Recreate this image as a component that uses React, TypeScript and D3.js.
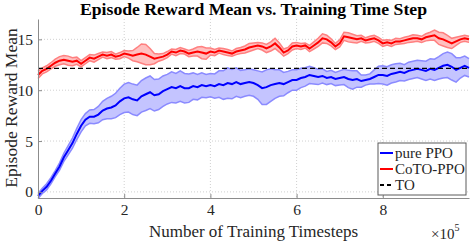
import * as React from "react";
import * as d3 from "d3";

// timesteps sampled every 1e4
const timesteps = d3.range(0, 101).map(i => i * 10000);

const ppoMean = [
  -0.4, 0.1, 0.5, 1.1, 1.8, 2.5, 3.4, 4.1, 4.8, 5.7,
  6.5, 7.1, 7.4, 7.4, 7.6, 8.0, 8.2, 8.3, 8.5, 8.9,
  9.2, 9.3, 9.1, 9.0, 9.4, 9.6, 9.8, 9.5, 9.6, 9.9,
  10.1, 10.3, 10.2, 10.4, 10.2, 10.2, 10.4, 10.3, 10.5, 10.4,
  10.5, 10.4, 10.6, 10.5, 10.7, 10.6, 10.8, 10.6, 10.7, 10.8,
  10.7, 10.5, 10.2, 10.3, 10.5, 10.6, 10.7, 10.6, 10.8, 11.0,
  11.0, 11.2, 11.3, 11.5, 11.4, 11.3, 11.4, 11.2, 11.3, 11.1,
  11.2, 11.3, 11.1, 11.0, 11.1, 10.9, 11.0, 11.1, 11.3, 11.5,
  11.5, 11.4, 11.6, 11.7, 11.8, 11.7, 11.9, 12.0, 12.1, 12.0,
  11.9, 12.1, 12.0, 12.2, 12.4, 12.5, 12.3, 12.0, 12.2, 12.4,
  12.2,
];
const ppoSpread = [
  0.25, 0.25, 0.3, 0.3, 0.3, 0.35, 0.4, 0.45, 0.5, 0.55,
  0.6, 0.6, 0.65, 0.7, 0.8, 0.9, 1.0, 1.1, 1.2, 1.3,
  1.4, 1.45, 1.5, 1.5, 1.55, 1.6, 1.6, 1.55, 1.5, 1.5,
  1.45, 1.5, 1.45, 1.5, 1.45, 1.4, 1.3, 1.25, 1.2, 1.15,
  1.15, 1.2, 1.3, 1.4, 1.5, 1.45, 1.4, 1.35, 1.3, 1.3,
  1.3, 1.4, 1.6, 1.7, 1.6, 1.4, 1.3, 1.15, 1.05, 1.0,
  1.0, 0.95, 0.9, 0.85, 0.8, 0.75, 0.7, 0.65, 0.65, 0.65,
  0.7, 0.75, 0.85, 0.9, 0.8, 0.6, 0.5, 0.5, 0.7, 0.85,
  0.9, 0.9, 0.9, 0.9, 0.85, 0.8, 0.85, 0.85, 0.85, 0.9,
  0.95, 1.0, 1.05, 1.1, 1.2, 1.25, 1.3, 1.2, 1.0, 0.95,
  0.9,
];

const cotoMean = [
  11.5, 11.9, 12.1, 12.4, 12.7, 12.9, 13.0, 12.9, 12.8, 12.9,
  12.6, 12.9, 13.2, 13.1, 13.3, 13.5, 13.4, 13.5, 13.3, 13.4,
  13.6, 13.5, 13.4, 13.5, 13.6, 13.5, 13.3, 13.1, 13.2, 13.3,
  13.5, 13.8, 13.7, 13.9, 13.8, 13.6, 13.7, 13.8, 13.7, 13.6,
  13.8, 13.7, 13.9, 13.8, 13.7, 13.6, 13.8, 13.9, 14.0, 14.2,
  14.3, 14.4, 14.3, 14.1, 14.3, 14.6, 14.2, 13.7, 13.9, 14.3,
  14.4, 14.3, 14.4, 14.1, 14.4, 14.7, 15.1, 15.0, 14.7, 14.3,
  14.6, 15.3, 15.2, 15.1, 15.0, 15.1, 14.9, 15.0, 15.1, 14.9,
  14.6, 14.7, 14.6, 14.8, 14.8, 14.9, 15.0, 15.1, 15.1, 15.0,
  15.2, 15.3, 15.4, 15.1, 15.0, 14.8, 14.6, 14.8, 15.0, 15.1,
  15.0,
];
const cotoSpread = [
  0.35, 0.3, 0.3, 0.3, 0.35, 0.4, 0.4, 0.45, 0.4, 0.35,
  0.3, 0.3, 0.3, 0.35, 0.3, 0.25, 0.3, 0.3, 0.25, 0.3,
  0.3, 0.35, 0.5, 0.7, 0.95, 1.0, 0.8, 0.5, 0.35, 0.3,
  0.3, 0.25, 0.3, 0.3, 0.25, 0.3, 0.35, 0.45, 0.6, 0.55,
  0.35, 0.3, 0.25, 0.3, 0.3, 0.25, 0.3, 0.3, 0.35, 0.4,
  0.35, 0.3, 0.35, 0.4, 0.45, 0.5, 0.45, 0.35, 0.3, 0.35,
  0.3, 0.3, 0.25, 0.3, 0.35, 0.4, 0.45, 0.4, 0.35, 0.3,
  0.35, 0.4, 0.45, 0.4, 0.35, 0.3, 0.25, 0.3, 0.3, 0.3,
  0.3, 0.25, 0.3, 0.3, 0.25, 0.3, 0.3, 0.35, 0.3, 0.3,
  0.35, 0.4, 0.5, 0.6, 0.65, 0.6, 0.5, 0.4, 0.3, 0.3,
  0.3,
];

const toLevel = 12.15;

const xTicks = [0, 200000, 400000, 600000, 800000];
const xTickLabels = ["0", "2", "4", "6", "8"];
const yTicks = [0, 5, 10, 15];

const legendItems = [
  { label: "pure PPO", color: "#0000ff", dash: "" },
  { label: "CoTO-PPO", color: "#ff0000", dash: "" },
  { label: "TO", color: "#000000", dash: "4,3" },
];

const W = 471;
const H = 242;
const FONT = "'Liberation Serif', 'Times New Roman', serif";
const TEXT = "#262626";

const App: React.FunctionComponent = () => {
  const ref = React.useRef<SVGSVGElement>(null);

  React.useEffect(() => {
    const margin = { top: 19, right: 2, bottom: 44, left: 38 };
    const width = W - margin.left - margin.right;
    const height = H - margin.top - margin.bottom;

    const x = d3.scaleLinear().domain([0, 1000000]).range([0, width]);
    const y = d3.scaleLinear().domain([-0.6, 17]).range([height, 0]);

    const svg = d3.select(ref.current);
    svg.selectAll("*").remove();
    const g = svg
      .append("g")
      .attr("transform", `translate(${margin.left},${margin.top})`);

    // grid
    g.selectAll(".gx")
      .data(xTicks.slice(1))
      .enter()
      .append("line")
      .attr("x1", d => x(d))
      .attr("x2", d => x(d))
      .attr("y1", 0)
      .attr("y2", height)
      .attr("stroke", "#d0d0d0")
      .attr("stroke-dasharray", "1,2");
    g.selectAll(".gy")
      .data(yTicks)
      .enter()
      .append("line")
      .attr("x1", 0)
      .attr("x2", width)
      .attr("y1", d => y(d))
      .attr("y2", d => y(d))
      .attr("stroke", "#d0d0d0")
      .attr("stroke-dasharray", "1,2");

    const drawSeries = (
      mean: number[],
      spread: number[],
      color: string,
      fill: string,
      edge: string
    ) => {
      const idx = d3.range(mean.length);
      const area = d3
        .area<number>()
        .x(i => x(timesteps[i]))
        .y0(i => y(mean[i] - spread[i]))
        .y1(i => y(mean[i] + spread[i]));
      g.append("path").datum(idx).attr("d", area).attr("fill", fill);
      const upper = d3
        .line<number>()
        .x(i => x(timesteps[i]))
        .y(i => y(mean[i] + spread[i]));
      const lower = d3
        .line<number>()
        .x(i => x(timesteps[i]))
        .y(i => y(mean[i] - spread[i]));
      [upper, lower].forEach(l =>
        g
          .append("path")
          .datum(idx)
          .attr("d", l)
          .attr("fill", "none")
          .attr("stroke", edge)
          .attr("stroke-width", 1.5)
      );
      const mid = d3
        .line<number>()
        .x(i => x(timesteps[i]))
        .y(i => y(mean[i]));
      g.append("path")
        .datum(idx)
        .attr("d", mid)
        .attr("fill", "none")
        .attr("stroke", color)
        .attr("stroke-width", 2);
    };

    drawSeries(ppoMean, ppoSpread, "#0000ff", "#c4c4ff", "#8a8aff");
    drawSeries(cotoMean, cotoSpread, "#ff0000", "#ffc0c0", "#ff8080");

    g.append("line")
      .attr("x1", 0)
      .attr("x2", width)
      .attr("y1", y(toLevel))
      .attr("y2", y(toLevel))
      .attr("stroke", "#000")
      .attr("stroke-width", 1.3)
      .attr("stroke-dasharray", "5,3");

    // axes
    const xAxis = g
      .append("g")
      .attr("transform", `translate(0,${height})`)
      .call(
        d3
          .axisBottom(x)
          .tickValues(xTicks)
          .tickFormat((d, i) => xTickLabels[i])
          .tickSize(-4)
          .tickSizeOuter(0)
          .tickPadding(6)
      );
    const yAxis = g.append("g").call(
      d3
        .axisLeft(y)
        .tickValues(yTicks)
        .tickSize(-4)
        .tickSizeOuter(0)
        .tickPadding(5)
    );
    [xAxis, yAxis].forEach(a => {
      a.select(".domain").attr("stroke", "#8c8c8c");
      a.selectAll(".tick line").attr("stroke", "#8c8c8c");
      a.selectAll(".tick text")
        .attr("fill", TEXT)
        .style("font-family", FONT)
        .style("font-size", "15.5px");
    });

    // legend
    const lg = g.append("g").attr("transform", `translate(${x(0) + 340},${124})`);
    lg.append("rect")
      .attr("width", 88)
      .attr("height", 52)
      .attr("fill", "#fff")
      .attr("stroke", "#5a5a5a")
      .attr("stroke-width", 1);
    legendItems.forEach((d, i) => {
      const cy = 10 + i * 16;
      lg.append("line")
        .attr("x1", 2)
        .attr("x2", 15)
        .attr("y1", cy)
        .attr("y2", cy)
        .attr("stroke", d.color)
        .attr("stroke-width", 2)
        .attr("stroke-dasharray", d.dash);
      lg.append("text")
        .attr("x", 17)
        .attr("y", cy + 5)
        .attr("fill", TEXT)
        .style("font-family", FONT)
        .style("font-size", "15px")
        .text(d.label);
    });

    // labels
    svg
      .append("text")
      .attr("x", margin.left + width / 2)
      .attr("y", 15)
      .attr("text-anchor", "middle")
      .attr("fill", "#000")
      .style("font-family", FONT)
      .style("font-size", "17.7px")
      .style("font-weight", "bold")
      .text("Episode Reward Mean vs. Training Time Step");
    svg
      .append("text")
      .attr("x", margin.left + width / 2)
      .attr("y", 237)
      .attr("text-anchor", "middle")
      .attr("fill", TEXT)
      .style("font-family", FONT)
      .style("font-size", "17px")
      .text("Number of Training Timesteps");
    svg
      .append("text")
      .attr("transform", `translate(17,${108}) rotate(-90)`)
      .attr("text-anchor", "middle")
      .attr("fill", TEXT)
      .style("font-family", FONT)
      .style("font-size", "17.5px")
      .text("Episode Reward Mean");
    const mult = svg
      .append("text")
      .attr("x", 431)
      .attr("y", 239)
      .attr("fill", TEXT)
      .style("font-family", FONT)
      .style("font-size", "15px");
    mult.append("tspan").text("\u00d710");
    mult
      .append("tspan")
      .attr("dy", -8)
      .style("font-size", "10px")
      .text("5");
  }, []);

  return (
    <svg
      ref={ref}
      width={W}
      height={H}
      style={{ position: "absolute", left: 0, top: 0, background: "#fff" }}
    />
  );
};

export default App;
